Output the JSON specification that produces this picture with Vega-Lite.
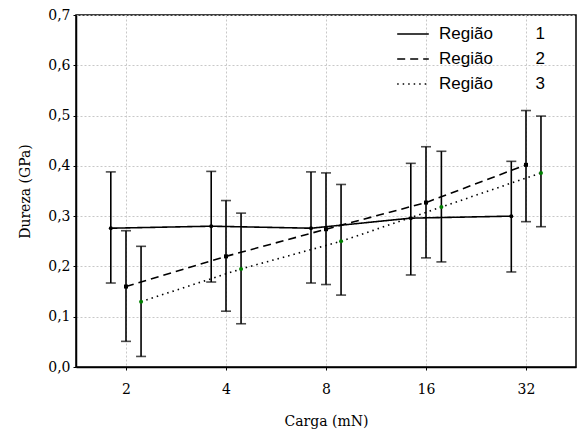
{
  "$schema": "https://vega.github.io/schema/vega-lite/v6.json",
  "autosize": {"type": "none"},
  "width": 500,
  "height": 352,
  "padding": {"left": 76, "top": 15, "right": 1, "bottom": 70},
  "background": "white",
  "config": {
    "view": {"stroke": "black", "strokeWidth": 1.5},
    "axis": {
      "labelFont": "DejaVu Serif",
      "titleFont": "DejaVu Serif",
      "labelFontSize": 14,
      "titleFontSize": 14,
      "labelColor": "black",
      "titleColor": "black",
      "titleFontWeight": "normal",
      "domainColor": "black",
      "domainWidth": 1.5,
      "tickColor": "black",
      "tickSize": 3,
      "gridColor": "#c8c8c8",
      "gridDash": [2, 2],
      "gridWidth": 1
    }
  },
  "data": {
    "values": [
      {"regiao": "1", "grupo": "g1", "carga": 1.80, "dureza": 0.276, "lo": 0.167, "hi": 0.388},
      {"regiao": "1", "grupo": "g1", "carga": 3.61, "dureza": 0.280, "lo": 0.169, "hi": 0.389},
      {"regiao": "1", "grupo": "g1", "carga": 7.21, "dureza": 0.276, "lo": 0.167, "hi": 0.388},
      {"regiao": "1", "grupo": "g1", "carga": 14.4, "dureza": 0.296, "lo": 0.183, "hi": 0.405},
      {"regiao": "1", "grupo": "g1", "carga": 28.9, "dureza": 0.300, "lo": 0.189, "hi": 0.409},
      {"regiao": "2", "grupo": "g2", "carga": 2, "dureza": 0.160, "lo": 0.051, "hi": 0.271},
      {"regiao": "2", "grupo": "g2", "carga": 4, "dureza": 0.220, "lo": 0.111, "hi": 0.331},
      {"regiao": "2", "grupo": "g2", "carga": 8, "dureza": 0.274, "lo": 0.164, "hi": 0.386},
      {"regiao": "2", "grupo": "g2", "carga": 16, "dureza": 0.327, "lo": 0.217, "hi": 0.438},
      {"regiao": "2", "grupo": "g2", "carga": 32, "dureza": 0.402, "lo": 0.289, "hi": 0.510},
      {"regiao": "3", "grupo": "g3", "carga": 2.22, "dureza": 0.130, "lo": 0.021, "hi": 0.240},
      {"regiao": "3", "grupo": "g3", "carga": 4.44, "dureza": 0.195, "lo": 0.086, "hi": 0.306},
      {"regiao": "3", "grupo": "g3", "carga": 8.88, "dureza": 0.250, "lo": 0.143, "hi": 0.363},
      {"regiao": "3", "grupo": "g3", "carga": 17.8, "dureza": 0.318, "lo": 0.209, "hi": 0.429},
      {"regiao": "3", "grupo": "g3", "carga": 35.5, "dureza": 0.386, "lo": 0.279, "hi": 0.499}
    ]
  },
  "encoding": {
    "x": {
      "field": "carga", "type": "quantitative",
      "scale": {"type": "log", "base": 2, "domain": [1.4142, 45.255], "nice": false},
      "axis": {"values": [2, 4, 8, 16, 32], "format": "d", "title": "Carga (mN)", "titlePadding": 18, "labelPadding": 12}
    },
    "y": {
      "field": "dureza", "type": "quantitative",
      "scale": {"domain": [0, 0.7], "nice": false},
      "axis": {"values": [0, 0.1, 0.2, 0.3, 0.4, 0.5, 0.6, 0.7], "format": ".1f", "labelExpr": "replace(datum.label, '.', ',')", "title": "Dureza (GPa)", "titlePadding": 15, "labelPadding": 3}
    }
  },
  "layer": [
    {
      "mark": {"type": "rule", "color": "black", "strokeWidth": 1.6},
      "encoding": {"y": {"field": "lo", "type": "quantitative"}, "y2": {"field": "hi"}}
    },
    {
      "mark": {"type": "tick", "orient": "horizontal", "color": "black", "size": 10, "thickness": 1.6},
      "encoding": {"y": {"field": "lo", "type": "quantitative"}}
    },
    {
      "mark": {"type": "tick", "orient": "horizontal", "color": "black", "size": 10, "thickness": 1.6},
      "encoding": {"y": {"field": "hi", "type": "quantitative"}}
    },
    {
      "mark": {"type": "line", "color": "black", "strokeWidth": 1.6},
      "encoding": {
        "strokeDash": {
          "field": "regiao", "type": "nominal",
          "scale": {"domain": ["1", "2", "3"], "range": [[1, 0], [8, 5], [1.5, 4]]},
          "legend": {
            "orient": "none", "legendX": 320, "legendY": 2,
            "title": null, "symbolType": "stroke", "symbolSize": 1000,
            "symbolStrokeColor": "black", "symbolStrokeWidth": 1.6,
            "labelFont": "Liberation Sans", "labelFontSize": 17, "labelColor": "black",
            "labelExpr": "'Região\u00a0\u00a0\u00a0\u00a0\u00a0\u00a0\u00a0\u00a0\u00a0' + datum.label",
            "rowPadding": -7, "labelOffset": 9, "padding": 0, "labelLimit": 300
          }
        }
      }
    },
    {
      "mark": {"type": "point", "filled": true, "size": 16, "opacity": 1},
      "encoding": {
        "shape": {"field": "grupo", "type": "nominal", "scale": {"domain": ["g1", "g2", "g3"], "range": ["circle", "square", "circle"]}, "legend": null},
        "color": {"field": "grupo", "type": "nominal", "scale": {"domain": ["g1", "g2", "g3"], "range": ["black", "black", "#008000"]}, "legend": null}
      }
    }
  ]
}
